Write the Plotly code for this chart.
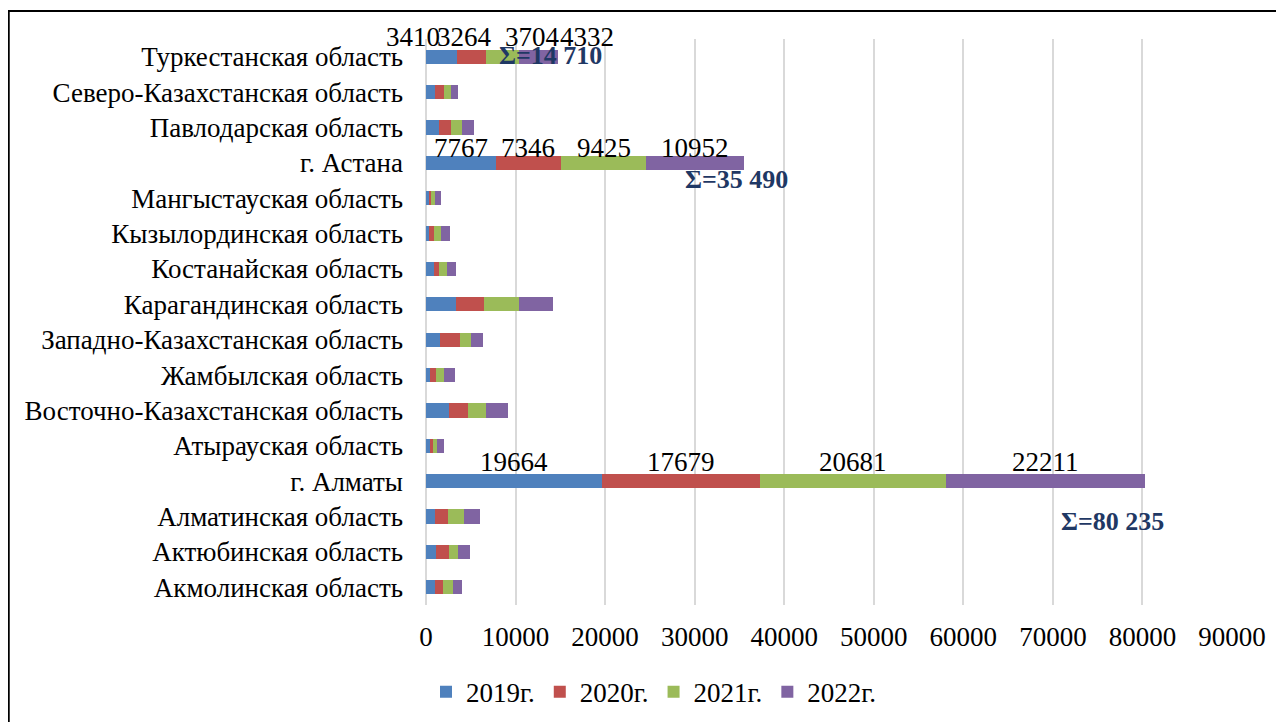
import plotly.graph_objects as go

regions = ['Акмолинская область', 'Актюбинская область', 'Алматинская область', 'г. Алматы',
           'Атырауская область', 'Восточно-Казахстанская область', 'Жамбылская область',
           'Западно-Казахстанская область', 'Карагандинская область', 'Костанайская область',
           'Кызылординская область', 'Мангыстауская область', 'г. Астана', 'Павлодарская область',
           'Северо-Казахстанская область', 'Туркестанская область']

y2019 = [1040, 1150, 970, 19664, 410, 2570, 450, 1560, 3310, 860, 300, 410, 7767, 1455, 1045, 3410]
y2020 = [860, 1380, 1450, 17679, 410, 2080, 630, 2200, 3200, 600, 560, 190, 7346, 1305, 930, 3264]
y2021 = [1080, 1080, 1860, 20681, 410, 2080, 890, 1270, 3830, 930, 860, 450, 9425, 1305, 820, 3704]
y2022 = [1080, 1300, 1790, 22211, 820, 2420, 1300, 1300, 3830, 1000, 930, 600, 10952, 1270, 820, 4332]

series = [('2019г.', y2019, '#4F81BD'), ('2020г.', y2020, '#C0504D'),
          ('2021г.', y2021, '#9BBB59'), ('2022г.', y2022, '#8064A2')]

# labelled rows: label xshifts per segment, label yshift, sum xshift, sum yshift
labelled = {
    'Туркестанская область': ([-28, -7, 30, 49], 20, -7, 1),
    'г. Астана': ([0, 0, 0, 0], 15, -7, -17),
    'г. Алматы': ([0, 0, 0, 0], 19, -32, -40),
}

font_family = 'Liberation Serif, Times New Roman, serif'

fig = go.Figure()
for name, vals, color in series:
    fig.add_trace(go.Bar(y=regions, x=vals, name=name, orientation='h',
                         marker=dict(color=color, line=dict(width=0))))

annotations = []
for reg, (shifts, ly, sx, sy) in labelled.items():
    i = regions.index(reg)
    base = 0
    for k, (name, vals, color) in enumerate(series):
        v = vals[i]
        annotations.append(dict(x=base + v / 2, y=reg, text=str(v), showarrow=False,
                                xanchor='center', yanchor='middle', yshift=ly, xshift=shifts[k],
                                font=dict(family=font_family, size=27, color='black')))
        base += v
    total = base
    annotations.append(dict(x=total, y=reg,
                            text='<b>Σ=' + format(total, ',').replace(',', ' ') + '</b>',
                            showarrow=False, xanchor='center', yanchor='middle',
                            xshift=sx, yshift=sy,
                            font=dict(family=font_family, size=26, color='#1F3864')))

fig.update_layout(
    barmode='stack',
    bargap=0.6,
    width=1284, height=722,
    margin=dict(l=418, r=60, t=31, b=125, autoexpand=False),
    plot_bgcolor='white', paper_bgcolor='white',
    font=dict(family=font_family, size=27, color='black'),
    xaxis=dict(range=[0, 90000], dtick=10000, showgrid=True, gridcolor='#D9D9D9', gridwidth=2,
               zeroline=True, zerolinecolor='#D9D9D9', zerolinewidth=2, ticks='',
               tickfont=dict(size=27), tickformat='d', ticklabelstandoff=13),
    yaxis=dict(range=[-0.5, 15.5], autorange=False, showgrid=False, ticks='',
               tickfont=dict(size=27), ticklabelstandoff=22),
    legend=dict(orientation='h', x=0.0, xanchor='left', y=-0.154, yanchor='middle',
                font=dict(size=27), traceorder='normal', itemwidth=30),
    showlegend=True,
    annotations=annotations,
    shapes=[dict(type='rect', xref='paper', yref='paper', x0=-0.5177, x1=1.2, y0=-0.4, y1=1.0495,
                 line=dict(color='black', width=2), fillcolor='rgba(0,0,0,0)', layer='below')],
)

fig.write_html('out.html')
